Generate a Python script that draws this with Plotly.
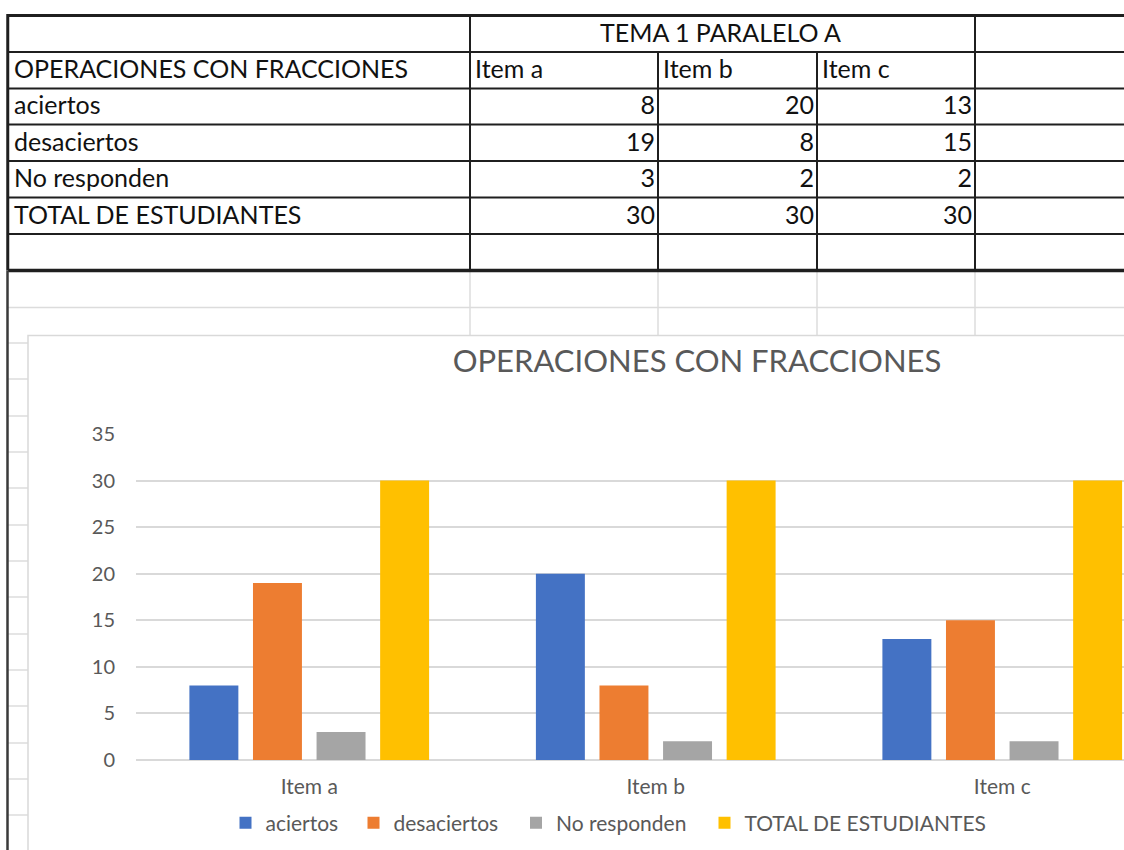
import plotly.graph_objects as go

# ---------------------------------------------------------
# datos (hoja "TEMA 1 PARALELO A")
# ---------------------------------------------------------
encabezado = "TEMA 1 PARALELO A"
titulo = "OPERACIONES CON FRACCIONES"
items = ["Item a", "Item b", "Item c"]
series = ["aciertos", "desaciertos", "No responden", "TOTAL DE ESTUDIANTES"]
aciertos = [8, 20, 13]
desaciertos = [19, 8, 15]
no_responden = [3, 2, 2]
total_estudiantes = [30, 30, 30]
y_ticks = [0, 5, 10, 15, 20, 25, 30, 35]

valores = [aciertos, desaciertos, no_responden, total_estudiantes]

colors = {
    'series': ['#4472C4', '#ED7D31', '#A5A5A5', '#FFC000'],
    'text': '#595959',
    'grid': '#D9D9D9',
    'cell_line': '#1F1F1F',
    'sheet_line': '#DCDCDC',
}

W, H = 1124, 850

# geometria de la hoja, en px de pantalla
col_edges = [8, 470, 658, 817, 975, 1124]
row_edges = [15.5, 52, 88.5, 124.5, 161, 197.5, 234, 270.5]
sheet_rows = [307.5, 343, 379, 416, 452, 488, 525, 561, 597, 634, 670, 706, 743, 779, 815]
row_mid = [(a + b) / 2 + 1.5 for a, b in zip(row_edges[:-1], row_edges[1:])]
legend_pos = [245.5, 373.5, 536, 724.5]  # centro del simbolo de cada leyenda


def px_x(x):
    return x / W


def px_y(y):
    return 1 - y / H


fig = go.Figure()

# ---------------------------------------------------------
# grafico de barras
# ---------------------------------------------------------
legend_ids = ['legend', 'legend2', 'legend3', 'legend4']
for name, vals, c, lg in zip(series, valores, colors['series'], legend_ids):
    fig.add_trace(go.Bar(
        x=items, y=vals, name=name, legend=lg,
        marker=dict(color=c, line=dict(width=0)),
        hoverinfo='x+y+name',
    ))

# ---------------------------------------------------------
# tabla (texto sobre ejes en px)
# ---------------------------------------------------------
left_x, left_y, left_t = [], [], []
left_x.append(col_edges[0] + 6)
left_y.append(row_mid[1])
left_t.append(titulo)
for j, it in enumerate(items):
    left_x.append(col_edges[j + 1] + 5)
    left_y.append(row_mid[1])
    left_t.append(it)
for i, s in enumerate(series):
    left_x.append(col_edges[0] + 6)
    left_y.append(row_mid[i + 2])
    left_t.append(s)

right_x, right_y, right_t = [], [], []
for i, vals in enumerate(valores):
    for j, v in enumerate(vals):
        right_x.append(col_edges[j + 2] - 3)
        right_y.append(row_mid[i + 2])
        right_t.append(str(v))

cell_font = dict(family="Lato", size=25, color='#111111')
fig.add_trace(go.Scatter(
    x=left_x, y=left_y, text=left_t, mode='text', textposition='middle right',
    textfont=cell_font, xaxis='x2', yaxis='y2', showlegend=False, hoverinfo='skip'))
fig.add_trace(go.Scatter(
    x=right_x, y=right_y, text=right_t, mode='text', textposition='middle left',
    textfont=cell_font, xaxis='x2', yaxis='y2', showlegend=False, hoverinfo='skip'))
fig.add_trace(go.Scatter(
    x=[(col_edges[1] + col_edges[4]) / 2 - 2], y=[row_mid[0]], text=[encabezado],
    mode='text', textposition='middle center',
    textfont=cell_font, xaxis='x2', yaxis='y2', showlegend=False, hoverinfo='skip'))

# ---------------------------------------------------------
# lineas de la hoja
# ---------------------------------------------------------
shapes = []


def line(x0, y0, x1, y1, width, color):
    shapes.append(dict(type='line', xref='x2', yref='y2', x0=x0, y0=y0, x1=x1, y1=y1,
                       line=dict(color=color, width=width)))


# cuadricula clara debajo de la tabla
line(col_edges[0], sheet_rows[0], W, sheet_rows[0], 1.5, colors['sheet_line'])
for x in col_edges[1:5]:
    line(x, row_edges[-1], x, 335, 1.5, colors['sheet_line'])
for y in sheet_rows[1:]:
    line(col_edges[0], y, 28, y, 1.5, colors['sheet_line'])

# marco del grafico
shapes.append(dict(type='rect', xref='x2', yref='y2', x0=28, y0=335.5, x1=W + 40, y1=H + 40,
                   line=dict(color=colors['grid'], width=1.5), fillcolor='rgba(0,0,0,0)'))

# bordes de la tabla
for y in row_edges[1:-1]:
    line(col_edges[0], y, W, y, 2, colors['cell_line'])
line(col_edges[0], row_edges[0], W, row_edges[0], 3, colors['cell_line'])
line(col_edges[0], row_edges[-1], W, row_edges[-1], 3.5, colors['cell_line'])
for x in [col_edges[1], col_edges[4]]:
    line(x, row_edges[0], x, row_edges[-1], 2, colors['cell_line'])
for x in [col_edges[2], col_edges[3]]:
    line(x, row_edges[1], x, row_edges[-1], 2, colors['cell_line'])
line(7.75, row_edges[0] - 1.5, 7.75, row_edges[-1], 3, colors['cell_line'])
line(7.5, row_edges[-1], 7.5, H, 2.5, '#3A3A3A')

# ---------------------------------------------------------
# layout
# ---------------------------------------------------------
plot_left = 136
cat_step = 346.5
legend_style = dict(orientation='h', xanchor='left', yanchor='middle', y=px_y(823),
                    font=dict(size=21, color=colors['text'], family="Lato"),
                    bgcolor='rgba(0,0,0,0)', borderwidth=0,
                    itemclick=False, itemdoubleclick=False)
legends = {lg: dict(legend_style, x=px_x(cx - 20)) for lg, cx in zip(legend_ids, legend_pos)}

fig.update_layout(
    width=W, height=H,
    margin=dict(l=0, r=0, t=0, b=0, autoexpand=False),
    paper_bgcolor='white', plot_bgcolor='rgba(0,0,0,0)',
    font=dict(family="Lato", color=colors['text']),
    barmode='group', bargap=0.266, bargroupgap=0.23,
    title=dict(text=titulo, x=px_x(697), xanchor='center', y=px_y(361), yanchor='middle',
               xref='container', yref='container',
               font=dict(size=31, color=colors['text'], family="Lato")),
    shapes=shapes,
    xaxis=dict(domain=[px_x(plot_left), 1], range=[-0.5, -0.5 + (W - plot_left) / cat_step],
               showgrid=False, zeroline=False, showline=False, ticks='',
               tickfont=dict(size=21, color=colors['text']), ticklabelstandoff=12,
               fixedrange=True),
    yaxis=dict(domain=[px_y(760), px_y(434)], range=[0, 35], tickvals=y_ticks,
               showgrid=True, gridcolor=colors['grid'], gridwidth=1.5,
               zeroline=True, zerolinecolor=colors['grid'], zerolinewidth=1.5,
               showline=False, ticks='', tickfont=dict(size=20, color=colors['text']),
               ticklabelstandoff=20, fixedrange=True),
    xaxis2=dict(domain=[0, 1], range=[0, W], visible=False, anchor='y2', fixedrange=True),
    yaxis2=dict(domain=[0, 1], range=[H, 0], visible=False, anchor='x2', fixedrange=True),
    **legends,
)

# la pagina sin el margen por defecto del <body>
fig.write_html("out.html", config={'displayModeBar': False},
               post_script="document.body.style.margin='0';document.body.style.overflow='hidden';")
